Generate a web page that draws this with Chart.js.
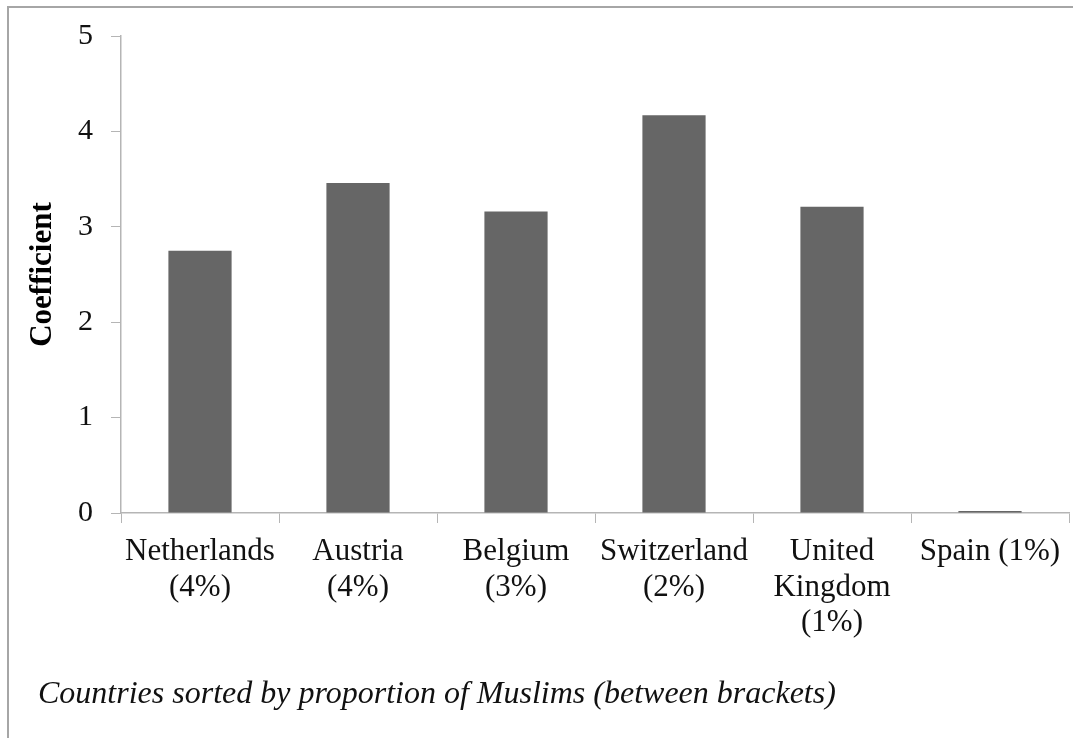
<!DOCTYPE html>
<html>
<head>
<meta charset="utf-8">
<script src="https://cdn.jsdelivr.net/npm/chart.js@4.4.1/dist/chart.umd.min.js"></script>
<style>
    html, body { margin: 0; padding: 0; background: #ffffff; }
    #wrap { position: relative; width: 1073px; height: 738px; }
</style>
</head>
<body>
<div id="wrap"><canvas id="coefChart"></canvas></div>
<script>
// 1. Data
const countries = [
    ['Netherlands', '(4%)'],
    ['Austria', '(4%)'],
    ['Belgium', '(3%)'],
    ['Switzerland', '(2%)'],
    ['United', 'Kingdom', '(1%)'],
    ['Spain (1%)']
];
const coefficients = [2.75, 3.46, 3.16, 4.17, 3.21, 0.02];
const yTicks = [0, 1, 2, 3, 4, 5];
const yTitle = 'Coefficient';
const footNote = 'Countries sorted by proportion of Muslims (between brackets)';

// 2. Helpers
const FONT = "'Liberation Serif', 'Times New Roman', serif";
const axisGray = '#b5b5b5';

// frame line (top + left) and the italic note under the axis
const framePlugin = {
    id: 'frame',
    beforeDraw(chart) {
        const ctx = chart.ctx;
        ctx.save();
        ctx.strokeStyle = '#a6a6a6';
        ctx.lineWidth = 2;
        ctx.beginPath();
        ctx.moveTo(8, chart.height);
        ctx.lineTo(8, 7);
        ctx.lineTo(chart.width, 7);
        ctx.stroke();
        ctx.restore();
    },
    afterDraw(chart) {
        const ctx = chart.ctx;
        ctx.save();
        ctx.fillStyle = '#111111';
        ctx.font = `italic 32px ${FONT}`;
        ctx.textAlign = 'left';
        ctx.textBaseline = 'middle';
        ctx.fillText(footNote, 38, 695);
        ctx.restore();
    }
};

// 3. Chart
new Chart(document.getElementById('coefChart'), {
    type: 'bar',
    data: {
        labels: countries,
        datasets: [{
            data: coefficients,
            backgroundColor: '#666666',
            borderWidth: 0,
            barPercentage: 0.4,
            categoryPercentage: 1.0
        }]
    },
    options: {
        responsive: true,
        maintainAspectRatio: false,
        animation: false,
        layout: { padding: { top: 35, right: 4, left: 0, bottom: 0 } },
        plugins: { legend: { display: false }, tooltip: { enabled: false } },
        scales: {
            x: {
                offset: true,
                grid: {
                    offset: true,
                    drawOnChartArea: false,
                    drawTicks: true,
                    tickLength: 10,
                    color: axisGray
                },
                border: { display: true, color: axisGray, width: 1.5 },
                ticks: {
                    autoSkip: false,
                    maxRotation: 0,
                    minRotation: 0,
                    padding: 11,
                    color: '#111111',
                    font: { family: FONT, size: 31, lineHeight: 1.15 }
                },
                afterFit(scale) { scale.height = 225; }
            },
            y: {
                min: 0,
                max: 5,
                afterBuildTicks(scale) { scale.ticks = yTicks.map(v => ({ value: v })); },
                grid: {
                    drawOnChartArea: false,
                    drawTicks: true,
                    tickLength: 10,
                    color: axisGray
                },
                border: { display: true, color: axisGray, width: 1.5 },
                ticks: {
                    padding: 18,
                    color: '#111111',
                    font: { family: FONT, size: 30 }
                },
                title: {
                    display: true,
                    text: yTitle,
                    color: '#000000',
                    padding: { top: 24, bottom: 0 },
                    font: { family: FONT, size: 31, weight: 'bold', lineHeight: 1.2 }
                },
                afterFit(scale) { scale.width = 121; }
            }
        }
    },
    plugins: [framePlugin]
});
</script>
</body>
</html>
